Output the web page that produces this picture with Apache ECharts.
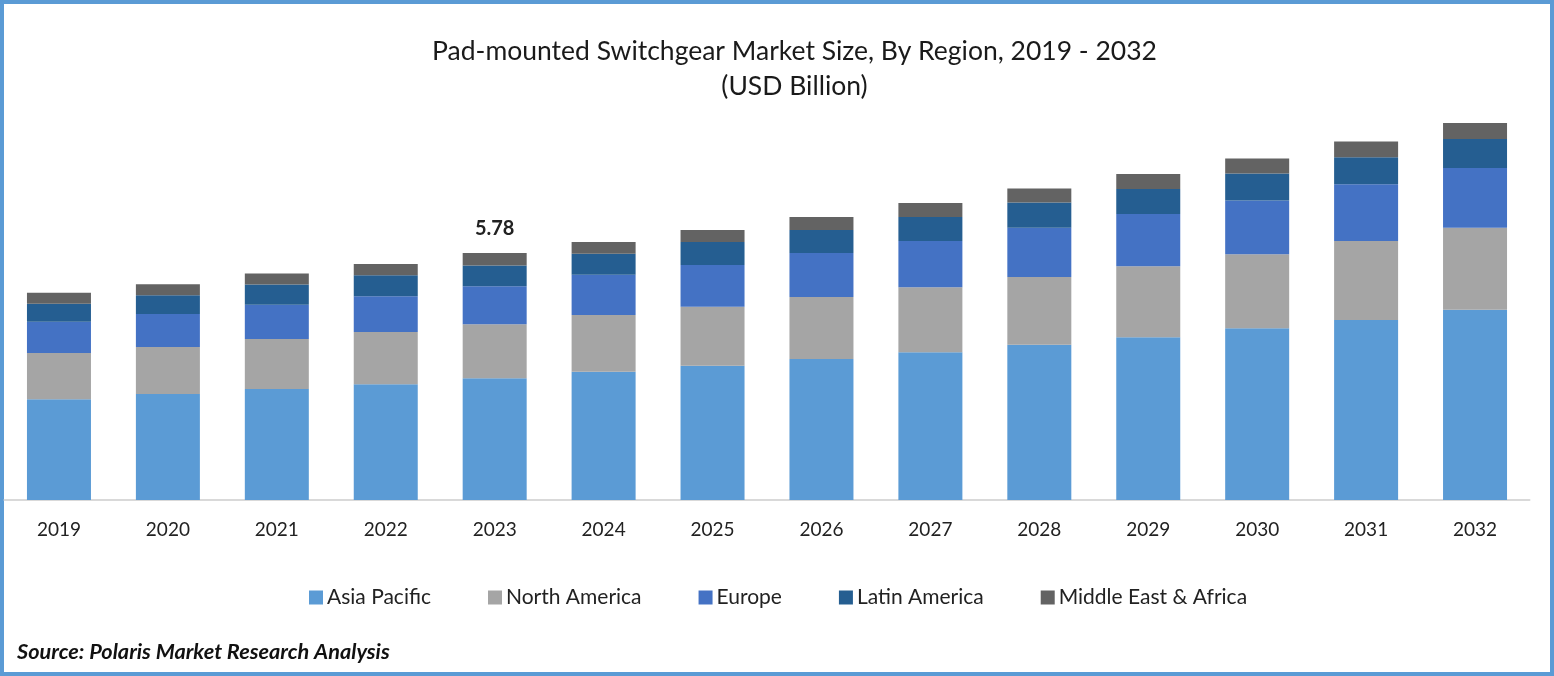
<!DOCTYPE html>
<html>
<head>
<meta charset="utf-8">
<title>Pad-mounted Switchgear Market Size</title>
<script src="https://cdn.jsdelivr.net/npm/echarts@6/dist/echarts.min.js"></script>
<style>
  html, body { margin: 0; padding: 0; background: #fff; }
  #chart { width: 1554px; height: 676px; }
</style>
</head>
<body>
<div id="chart"></div>
<script>
// values, USD billion
const years = ['2019', '2020', '2021', '2022', '2023', '2024', '2025', '2026', '2027', '2028', '2029', '2030', '2031', '2032'];
const asiaPacific = [2.36, 2.48, 2.60, 2.71, 2.85, 3.00, 3.14, 3.30, 3.46, 3.63, 3.81, 4.02, 4.21, 4.45];
const northAmerica = [1.08, 1.10, 1.17, 1.22, 1.26, 1.33, 1.38, 1.45, 1.52, 1.59, 1.66, 1.73, 1.85, 1.92];
const europe = [0.73, 0.77, 0.80, 0.84, 0.89, 0.94, 0.98, 1.03, 1.08, 1.15, 1.22, 1.26, 1.33, 1.40];
const latinAmerica = [0.42, 0.44, 0.47, 0.49, 0.49, 0.49, 0.54, 0.54, 0.56, 0.59, 0.59, 0.63, 0.63, 0.68];
const middleEastAfrica = [0.26, 0.26, 0.26, 0.26, 0.29, 0.28, 0.28, 0.30, 0.33, 0.33, 0.35, 0.35, 0.37, 0.37];
const labelledYear = '2023';
const labelledTotal = '5.78';

const fontName = 'Lato';

let chart = echarts.init(document.querySelector('#chart'), null, { renderer: 'canvas' });

function barSeries(name, values, color) {
  return {
    name: name,
    type: 'bar',
    stack: 'total',
    barWidth: 64,
    itemStyle: { color: color },
    data: values
  };
}

let topSeries = barSeries('Middle East & Africa', middleEastAfrica, '#636363');
topSeries.label = {
  show: true,
  position: 'top',
  distance: 14,
  fontFamily: fontName,
  fontSize: 20,
  fontWeight: 'bold',
  color: '#222',
  formatter: function (p) {
    return p.name == labelledYear ? labelledTotal : '';
  }
};

chart.setOption({
  animation: false,
  backgroundColor: '#fff',
  title: [
    {
      text: 'Pad-mounted Switchgear Market Size, By Region, 2019 - 2032\n(USD Billion)',
      left: 789.5,
      top: 29,
      textAlign: 'center',
      textStyle: { fontFamily: fontName, fontSize: 26.5, fontWeight: 'normal', color: '#1a1a1a', lineHeight: 35 }
    },
    {
      text: 'Source: Polaris Market Research Analysis',
      left: 12,
      top: 636,
      textStyle: { fontFamily: fontName, fontSize: 21.7, fontWeight: 'bold', fontStyle: 'italic', color: '#111' }
    }
  ],
  legend: {
    left: 304,
    top: 582,
    icon: 'rect',
    itemWidth: 14,
    itemHeight: 14,
    itemGap: 57,
    textStyle: { fontFamily: fontName, fontSize: 21, color: '#222', padding: [0, 0, 0, -1] }
  },
  grid: { left: 4.5, right: 24.5, top: 100, height: 400, containLabel: false },
  xAxis: {
    type: 'category',
    data: years,
    axisLine: { lineStyle: { color: '#D9D9D9', width: 2 } },
    axisTick: { show: false },
    axisLabel: { fontFamily: fontName, fontSize: 19, color: '#222', margin: 20 }
  },
  yAxis: {
    type: 'value',
    min: 0,
    max: 9.36,
    show: false
  },
  series: [
    barSeries('Asia Pacific', asiaPacific, '#5B9BD5'),
    barSeries('North America', northAmerica, '#A5A5A5'),
    barSeries('Europe', europe, '#4472C4'),
    barSeries('Latin America', latinAmerica, '#255E91'),
    topSeries
  ],
  graphic: [
    {
      type: 'rect',
      silent: true,
      shape: { x: 2, y: 2, width: 1550, height: 672 },
      style: { fill: 'none', stroke: '#5B9BD5', lineWidth: 4 }
    }
  ]
});
</script>
</body>
</html>
